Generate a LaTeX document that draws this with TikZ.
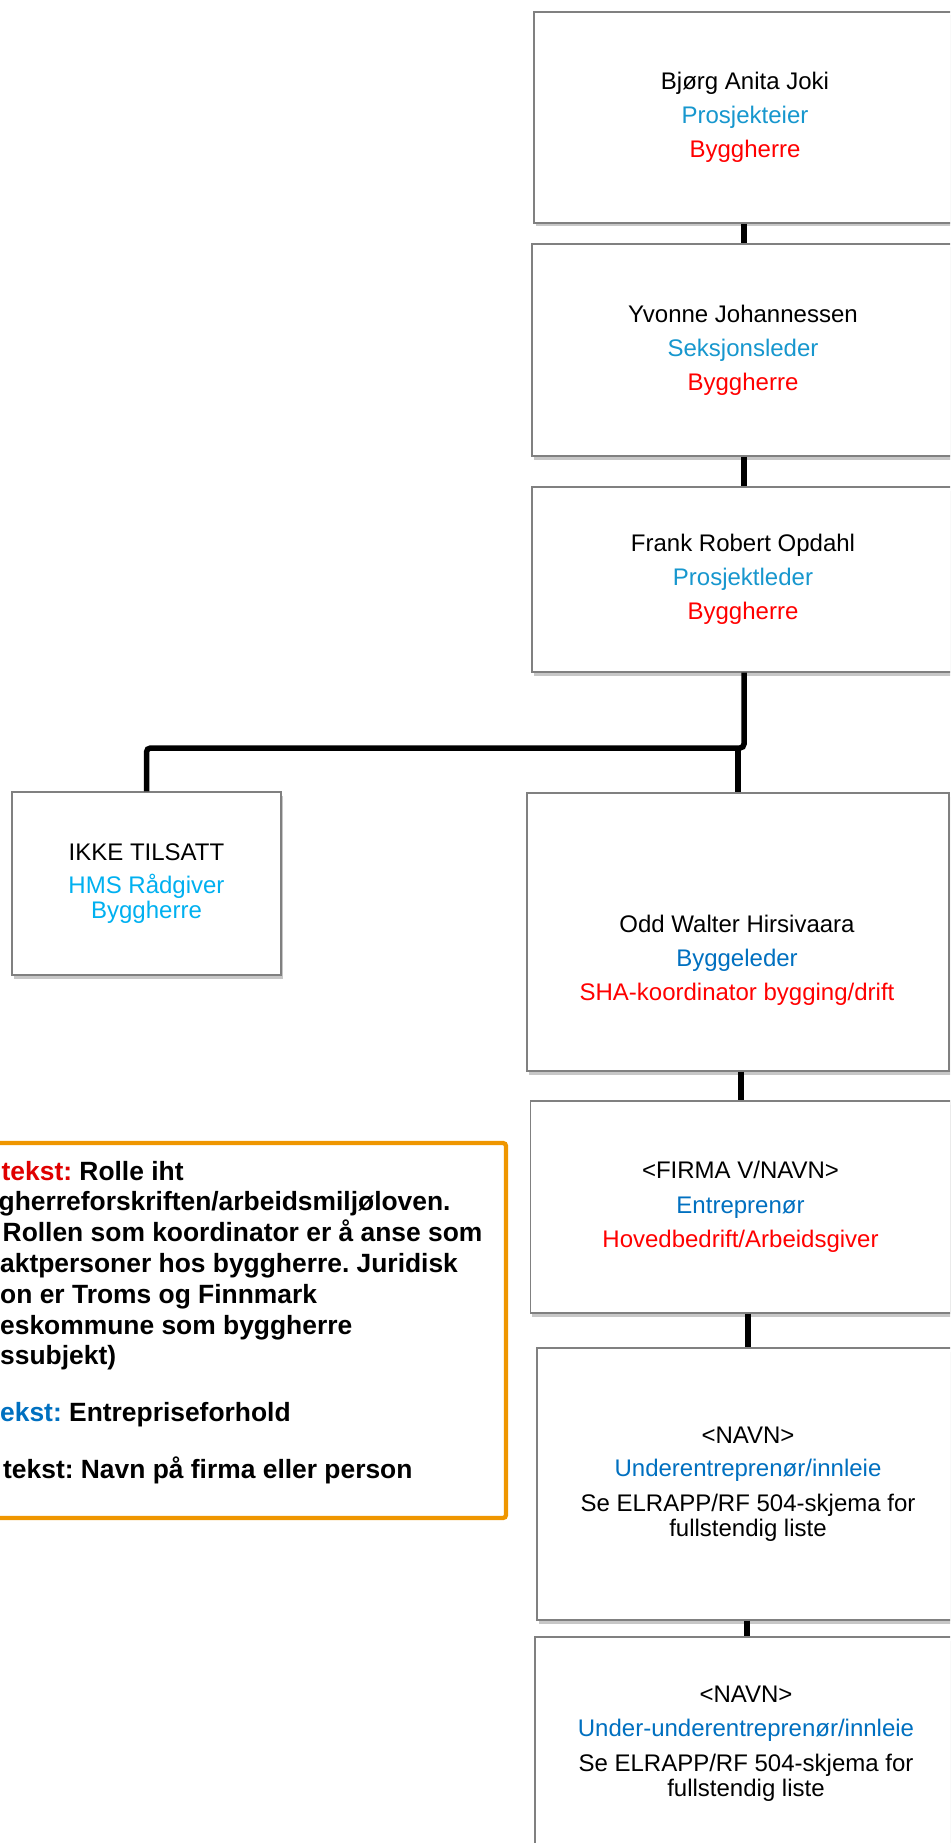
\documentclass[tikz,border=0pt]{standalone}
\usepackage{fontspec}
\setmainfont{Liberation Sans}
\usetikzlibrary{shadows,calc}
\definecolor{boxgray}{RGB}{128,128,128}
\definecolor{lblue}{RGB}{23,151,206}
\definecolor{dblue}{RGB}{0,112,192}
\definecolor{sky}{RGB}{0,176,240}
\definecolor{rred}{RGB}{255,0,0}
\definecolor{legred}{RGB}{224,0,0}
\definecolor{legorange}{RGB}{239,150,0}
\newcommand{\bxfont}{\fontsize{24}{26.5}\selectfont\frenchspacing}
\newcommand{\lgfont}{\fontsize{26.4}{30.8}\selectfont\bfseries\frenchspacing}
\begin{document}
\begin{tikzpicture}[x=1pt,y=-1pt,
  box/.style={draw=boxgray, line width=1.2pt, fill=white, rectangle, inner sep=0pt,
    align=center, font=\bxfont,
    drop shadow={shadow xshift=1.5pt, shadow yshift=-3.5pt, opacity=0.22, fill=black}},
  con/.style={line width=5.5pt, draw=black},
  txt/.style={inner sep=0pt, align=center, font=\bxfont},
  leg/.style={anchor=base west, inner sep=0pt, font=\lgfont}
]
\useasboundingbox (0,0) rectangle (950,1843);
\clip (0,0) rectangle (950,1843);

% boxes
\node[box, minimum width=422pt, minimum height=211pt] (A) at (745,117.5)
  {Bjørg Anita Joki\\[7.5pt]\textcolor{lblue}{Prosjekteier}\\[7.5pt]\textcolor{rred}{Byggherre}};
\node[box, minimum width=422pt, minimum height=212pt] (B) at (743,350)
  {Yvonne Johannessen\\[7.5pt]\textcolor{lblue}{Seksjonsleder}\\[7.5pt]\textcolor{rred}{Byggherre}};
\node[box, minimum width=422pt, minimum height=185pt] (C) at (743,579.5)
  {Frank Robert Opdahl\\[7.5pt]\textcolor{lblue}{Prosjektleder}\\[7.5pt]\textcolor{rred}{Byggherre}};
\node[box, minimum width=269pt, minimum height=183pt] (IKKE) at (146.5,883.5)
  {IKKE TILSATT\\[6.5pt]\textcolor{sky}{HMS Rådgiver}\\[-1.5pt]\textcolor{sky}{Byggherre}};
\node[box, minimum width=422pt, minimum height=278pt] (Odd) at (738,932) {};
\node[txt] (Oddt) at (737,960.75)
  {Odd Walter Hirsivaara\\[7.5pt]\textcolor{dblue}{Byggeleder}\\[7.5pt]\textcolor{rred}{SHA-koordinator bygging/drift}};
\node[box, minimum width=420pt, minimum height=212pt] (F) at (740.5,1207)
  {<FIRMA V/NAVN>\\[8.5pt]\textcolor{dblue}{Entreprenør}\\[7.5pt]\textcolor{rred}{Hovedbedrift/Arbeidsgiver}};
\node[box, minimum width=422pt, minimum height=272pt] (N1) at (748,1484)
  {<NAVN>\\[6.5pt]\textcolor{dblue}{Underentreprenør/innleie}\\[8.5pt]Se ELRAPP/RF 504-skjema for\\[-1.5pt]fullstendig liste};
\node[box, minimum width=422pt, minimum height=214pt] (N2) at (746,1744)
  {<NAVN>\\[7.5pt]\textcolor{dblue}{Under-underentreprenør/innleie}\\[8.5pt]Se ELRAPP/RF 504-skjema for\\[-1.5pt]fullstendig liste};

% connectors
\coordinate (cAB) at (744,0);
\coordinate (cJ) at (744,748);
\coordinate (cOdd) at (738,748);
\coordinate (cOF) at (741,0);
\coordinate (cFN) at (748,0);
\coordinate (cNN) at (747,0);
\draw[con] (A.south -| cAB) -- (B.north -| cAB);
\draw[con] (B.south -| cAB) -- (C.north -| cAB);
\draw[con, rounded corners=4pt] (C.south -| cJ) -- (cJ) -- (cJ -| IKKE.north) -- (IKKE.north);
\draw[con] (cOdd) -- (Odd.north);
\draw[con] (Odd.south -| cOF) -- (F.north -| cOF);
\draw[con] (F.south -| cFN) -- (N1.north -| cFN);
\draw[con] (N1.south -| cNN) -- (N2.north -| cNN);

% legend
\node[draw=legorange, line width=4.3pt, rounded corners=3pt, fill=white,
  minimum width=566pt, minimum height=375pt, inner sep=0pt] (legend) at (223,1330.5) {};
\node[leg] (l1) at (1.5,1180) {\textcolor{legred}{tekst:} Rolle iht};
\node[leg] (l2) at (-1.5,1210.8) {gherreforskriften/arbeidsmiljøloven.};
\node[leg] (l3) at (2.5,1241.6) {Rollen som koordinator er å anse som};
\node[leg] (l4) at (0,1272.4) {aktpersoner hos byggherre. Juridisk};
\node[leg] (l5) at (0,1303.2) {on er Troms og Finnmark};
\node[leg] (l6) at (0,1334) {eskommune som byggherre};
\node[leg] (l7) at (0,1364.8) {ssubjekt)};
\node[leg] (l8) at (0,1421.5) {\textcolor{dblue}{ekst:} Entrepriseforhold};
\node[leg] (l9) at (3,1478.2) {tekst: Navn på firma eller person};
\end{tikzpicture}
\end{document}
